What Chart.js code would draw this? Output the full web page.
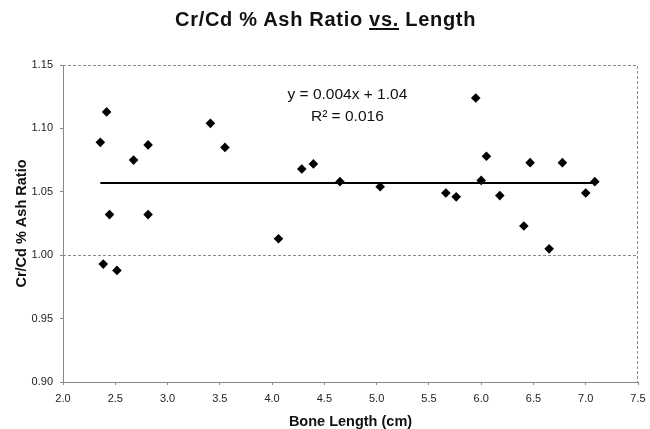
<!DOCTYPE html>
<html>
<head>
<meta charset="utf-8">
<script src="https://cdn.jsdelivr.net/npm/chart.js@4/dist/chart.umd.min.js"></script>
<style>
    body { margin: 0; background: #fff; }
    #wrap { position: relative; width: 650px; height: 429px; }
    #title {
        position: absolute; left: 175px; top: 8px; white-space: nowrap;
        font: bold 20px "Liberation Sans", Arial, sans-serif; letter-spacing: 0.7px; color: #111;
    }
    #title u { text-underline-offset: 2px; text-decoration-thickness: 2px; }
</style>
</head>
<body>
<div id="wrap">
    <div id="title">Cr/Cd % Ash Ratio <u>vs.</u> Length</div>
    <canvas id="chart" width="650" height="429"></canvas>
</div>
<script>
// ---------------------------------------------------------------------------
// Data
// ---------------------------------------------------------------------------

const boneLength = [2.357, 2.417, 2.385, 2.445, 2.516, 2.675, 2.814, 2.814, 3.41, 3.549,
    4.061, 4.284, 4.395, 4.649, 5.034, 5.662, 5.761, 5.948, 6.0, 6.05,
    6.178, 6.408, 6.468, 6.65, 6.777, 7.0, 7.087];
const ashRatio = [1.089, 1.113, 0.993, 1.032, 0.988, 1.075, 1.087, 1.032, 1.104, 1.085,
    1.013, 1.068, 1.072, 1.058, 1.054, 1.049, 1.046, 1.124, 1.059, 1.078,
    1.047, 1.023, 1.073, 1.005, 1.073, 1.049, 1.058];

const trendX = [2.357, 7.087];
const trendY = [1.057, 1.057];

const xTicks = [2.0, 2.5, 3.0, 3.5, 4.0, 4.5, 5.0, 5.5, 6.0, 6.5, 7.0, 7.5];
const yTicks = [0.90, 0.95, 1.00, 1.05, 1.10, 1.15];
const referenceY = 1.0;

const equationLines = ["y = 0.004x + 1.04", "R\u00b2 = 0.016"];

// ---------------------------------------------------------------------------
// Plugins
// ---------------------------------------------------------------------------

const frameAndLabel = {
    id: "frameAndLabel",
    beforeDatasetsDraw(chart) {
        const { ctx, chartArea: a } = chart;
        const y = Math.round(chart.scales.y.getPixelForValue(referenceY)) + 0.5;
        ctx.save();
        ctx.strokeStyle = "#8a8a8a";
        ctx.lineWidth = 1;
        ctx.setLineDash([3, 2]);
        ctx.beginPath();
        // dashed 1.00 reference line
        ctx.moveTo(a.left, y);
        ctx.lineTo(a.right, y);
        // dotted top/right frame
        ctx.moveTo(a.left, a.top + 0.5);
        ctx.lineTo(a.right - 0.5, a.top + 0.5);
        ctx.lineTo(a.right - 0.5, a.bottom);
        ctx.stroke();
        ctx.restore();
    },
    afterDraw(chart) {
        const { ctx, chartArea: a } = chart;
        ctx.save();
        ctx.fillStyle = "#111";
        ctx.textAlign = "center";
        ctx.textBaseline = "middle";
        ctx.font = '15.5px "Liberation Sans", Arial, sans-serif';
        const cx = chart.scales.x.getPixelForValue(4.72);
        ctx.fillText(equationLines[0], cx, a.top + 30);
        ctx.fillText(equationLines[1], cx, a.top + 52);
        ctx.restore();
    },
};

// ---------------------------------------------------------------------------
// Chart
// ---------------------------------------------------------------------------

const font = { family: '"Liberation Sans", Arial, sans-serif' };

new Chart(document.getElementById("chart"), {
    type: "scatter",
    data: {
        datasets: [
            {
                label: "Ratio",
                data: boneLength.map((x, i) => ({ x: x, y: ashRatio[i] })),
                pointStyle: "rectRot",
                pointRadius: 4.8,
                backgroundColor: "#000",
                borderColor: "#000",
                borderWidth: 0,
            },
            {
                label: "Trend",
                type: "line",
                data: trendX.map((x, i) => ({ x: x, y: trendY[i] })),
                borderColor: "#000",
                borderWidth: 2,
                pointRadius: 0,
                fill: false,
            },
        ],
    },
    options: {
        responsive: false,
        animation: false,
        layout: { padding: { left: 0, right: 12, top: 65, bottom: 0 } },
        plugins: {
            legend: { display: false },
            tooltip: { enabled: false },
        },
        scales: {
            x: {
                type: "linear",
                min: 2,
                max: 7.5,
                afterBuildTicks: (s) => { s.ticks = xTicks.map((v) => ({ value: v })); },
                afterFit: (s) => {
                    s.height = 47;
                    s.paddingLeft = 0;
                    s.paddingRight = 0;
                },
                ticks: {
                    color: "#222",
                    font: { ...font, size: 11 },
                    padding: 7,
                    callback: (v) => v.toFixed(1),
                },
                grid: { drawOnChartArea: false, drawTicks: true, tickLength: 3, color: "#888" },
                border: { color: "#888", width: 1 },
                title: {
                    display: true,
                    text: "Bone Length (cm)",
                    color: "#111",
                    font: { ...font, size: 14.5, weight: "bold", lineHeight: 1 },
                    padding: { top: 0, bottom: 0 },
                },
            },
            y: {
                min: 0.9,
                max: 1.15,
                afterBuildTicks: (s) => { s.ticks = yTicks.map((v) => ({ value: v })); },
                afterFit: (s) => { s.width = 63; },
                ticks: {
                    color: "#222",
                    font: { ...font, size: 11 },
                    padding: 7,
                    callback: (v) => v.toFixed(2),
                },
                grid: {
                    drawOnChartArea: false,
                    drawTicks: true,
                    tickLength: 3,
                    color: "#888",
                },
                border: { color: "#888", width: 1 },
                title: {
                    display: true,
                    text: "Cr/Cd % Ash Ratio",
                    color: "#111",
                    font: { ...font, size: 14.5, weight: "bold" },
                    padding: { top: 13, bottom: 0 },
                },
            },
        },
    },
    plugins: [frameAndLabel],
});
</script>
</body>
</html>
